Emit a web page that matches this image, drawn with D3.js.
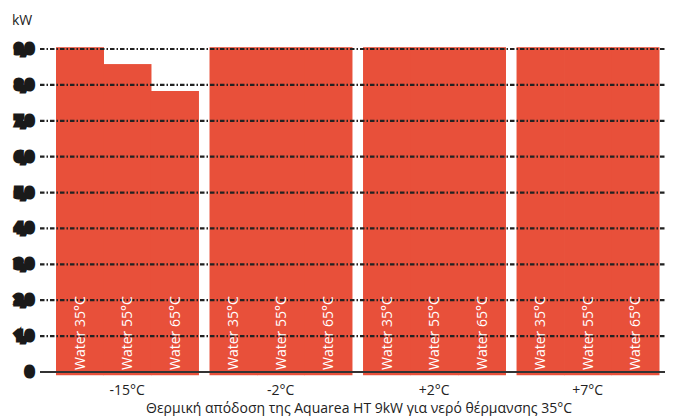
<!DOCTYPE html>
<html>
<head>
<meta charset="utf-8">
<script src="https://cdn.jsdelivr.net/npm/d3@7"></script>
<style>
  body { margin: 0; background: #fff; }
  svg { display: block; font-family: "Open Sans", sans-serif; }
</style>
</head>
<body>
<div id="chart"></div>
<script>
const w = 673;
const h = 416;

const temps = ["-15°C", "-2°C", "+2°C", "+7°C"];
const waters = ["Water 35°C", "Water 55°C", "Water 65°C"];
// kW per outdoor temp, one value per water temp
const power = [
  [9.05, 8.58, 7.83],
  [9.05, 9.05, 9.05],
  [9.05, 9.05, 9.05],
  [9.05, 9.05, 9.05]
];
const yTicks = [0, 1, 2, 3, 4, 5, 6, 7, 8, 9];
const yTickLabels = ["0", "1,0", "2,0", "3,0", "4,0", "5,0", "6,0", "7,0", "8,0", "9,0"];
const unitLabel = "kW";
const xTitle = "Θερμική απόδοση της Aquarea HT 9kW για νερό θέρμανσης 35°C";

const svg = d3
  .select("#chart")
  .append("svg")
  .attr("width", w)
  .attr("height", h);

const x = d3.scaleBand(temps, [56, 659]).paddingInner(0.072);
const xs = d3.scaleBand(waters, [0, x.bandwidth()]);
const y = d3.scaleLinear([0, 9], [372, 49]);

const rows = temps.flatMap((t, i) =>
  waters.map((wt, j) => ({ temp: t, water: wt, value: power[i][j] }))
);

// bars start a touch below the zero line
svg
  .append("g")
  .selectAll("rect")
  .data(rows)
  .enter()
  .append("rect")
  .attr("x", (d) => x(d.temp) + xs(d.water))
  .attr("width", xs.bandwidth() + 0.5)
  .attr("y", (d) => y(d.value))
  .attr("height", (d) => y(-0.09) - y(d.value))
  .attr("fill", "#e8503a");

// dash-dot grid
svg
  .append("g")
  .selectAll("line")
  .data(yTicks.filter((d) => d > 0))
  .enter()
  .append("line")
  .attr("x1", 40)
  .attr("x2", 665)
  .attr("y1", (d) => y(d))
  .attr("y2", (d) => y(d))
  .attr("stroke", "#222")
  .attr("stroke-width", 2.2)
  .attr("stroke-dasharray", "4.5,2,1.5,2");

svg
  .append("line")
  .attr("x1", 40)
  .attr("x2", 665)
  .attr("y1", y(0))
  .attr("y2", y(0))
  .attr("stroke", "#333")
  .attr("stroke-width", 2);

// y tick labels (come out as heavy blobs in the original)
svg
  .append("g")
  .selectAll("text")
  .data(yTicks)
  .enter()
  .append("text")
  .attr("x", 33)
  .attr("y", (d) => y(d) + 4)
  .attr("text-anchor", "end")
  .attr("font-size", 12)
  .attr("font-weight", 900)
  .attr("fill", "#1a1a1a")
  .attr("stroke", "#1a1a1a")
  .attr("stroke-width", 5)
  .attr("stroke-linejoin", "miter")
  .text((d, i) => yTickLabels[i]);

svg
  .append("text")
  .attr("x", 12)
  .attr("y", 25)
  .attr("font-size", 14)
  .attr("fill", "#222")
  .text(unitLabel);

// rotated water labels inside bars
svg
  .append("g")
  .selectAll("text")
  .data(rows)
  .enter()
  .append("text")
  .attr("transform", (d) => {
    const cx = x(d.temp) + xs(d.water) + xs.bandwidth() / 2 + 5;
    return `translate(${cx},${y(0) - 2}) rotate(-90)`;
  })
  .attr("font-size", 14)
  .attr("fill", "#fff")
  .text((d) => d.water);

svg
  .append("g")
  .selectAll("text")
  .data(temps)
  .enter()
  .append("text")
  .attr("x", (d) => x(d) + x.bandwidth() / 2)
  .attr("y", 395)
  .attr("text-anchor", "middle")
  .attr("font-size", 14)
  .attr("fill", "#222")
  .text((d) => d);

svg
  .append("text")
  .attr("x", 359)
  .attr("y", 413)
  .attr("text-anchor", "middle")
  .attr("font-size", 14)
  .attr("fill", "#222")
  .text(xTitle);
</script>
</body>
</html>
